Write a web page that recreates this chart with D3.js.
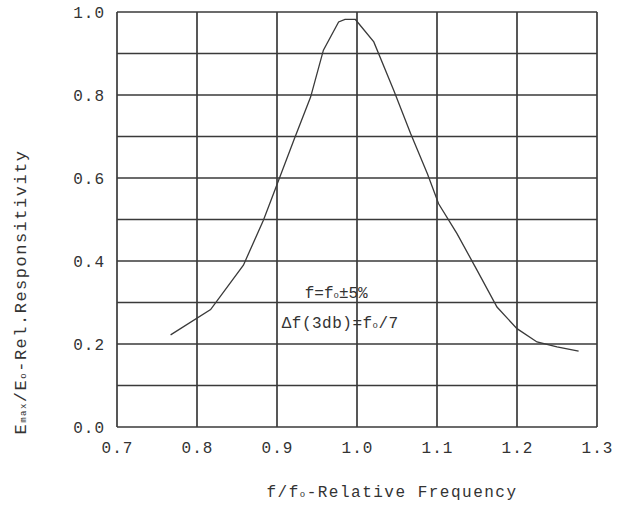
<!DOCTYPE html>
<html>
<head>
<meta charset="utf-8">
<script src="https://cdn.jsdelivr.net/npm/d3@7"></script>
<style>
  body { margin: 0; background: #fff; }
  text { font-family: "Liberation Mono", "DejaVu Sans Mono", monospace; fill: #333; }
</style>
</head>
<body>
<svg id="chart" width="617" height="507"></svg>
<script>
(function() {

  // values
  var freq = [0.767, 0.817, 0.858, 0.883, 0.898, 0.921, 0.942, 0.958, 0.977, 0.985, 0.998,
              1.021, 1.046, 1.067, 1.088, 1.102, 1.125, 1.15, 1.175, 1.2, 1.225, 1.25, 1.277]
  var resp = [0.222, 0.283, 0.39, 0.498, 0.574, 0.691, 0.795, 0.908, 0.976, 0.982, 0.982,
              0.928, 0.811, 0.707, 0.61, 0.538, 0.466, 0.378, 0.289, 0.237, 0.205, 0.193, 0.183]
  var xTicks = [0.7, 0.8, 0.9, 1.0, 1.1, 1.2, 1.3]
  var yTicks = [0, 0.2, 0.4, 0.6, 0.8, 1.0]
  var yGrid = [0, 0.1, 0.2, 0.3, 0.4, 0.5, 0.6, 0.7, 0.8, 0.9, 1.0]

  var margin = {left: 117, top: 12}
  var width = 480, height = 415

  var svg = d3.select("#chart")
    .append("g")
    .attr("transform", "translate(" + margin.left + "," + margin.top + ")")

  const xPositionScale = d3.scaleLinear().domain([0.7, 1.3]).range([0, width])
  const yPositionScale = d3.scaleLinear().domain([0, 1]).range([height, 0])

  // grid
  svg.selectAll(".hgrid")
    .data(yGrid)
    .enter().append("line")
    .attr("x1", 0).attr("x2", width)
    .attr("y1", d => yPositionScale(d)).attr("y2", d => yPositionScale(d))
    .attr("stroke", "#3a3a3a").attr("stroke-width", 1.7)

  svg.selectAll(".vgrid")
    .data(xTicks)
    .enter().append("line")
    .attr("y1", 0).attr("y2", height)
    .attr("x1", d => xPositionScale(d)).attr("x2", d => xPositionScale(d))
    .attr("stroke", "#3a3a3a").attr("stroke-width", 1.7)

  // axes (only for labels)
  var xAxis = d3.axisBottom(xPositionScale).tickValues(xTicks).tickSize(0).tickPadding(15)
    .tickFormat(d => d3.format(".1f")(d))
  svg.append("g").attr("transform", "translate(0," + height + ")").call(xAxis)
    .call(g => g.select(".domain").remove())
    .selectAll("text").attr("font-size", 16).attr("font-family", "Liberation Mono")
    .attr("fill", "#333").attr("letter-spacing", 1)

  var yAxis = d3.axisLeft(yPositionScale).tickValues(yTicks).tickSize(0).tickPadding(12)
    .tickFormat(d => d3.format(".1f")(d))
  svg.append("g").call(yAxis)
    .call(g => g.select(".domain").remove())
    .selectAll("text").attr("font-size", 16).attr("font-family", "Liberation Mono")
    .attr("fill", "#333").attr("letter-spacing", 1)

  // curve
  var line = d3.line()
    .x((d, i) => xPositionScale(freq[i]))
    .y((d, i) => yPositionScale(resp[i]))

  svg.append("path")
    .datum(freq)
    .attr("d", line)
    .attr("fill", "none")
    .attr("stroke", "#3a3a3a")
    .attr("stroke-width", 1.3)

  // annotation
  var note1 = svg.append("text")
    .attr("x", xPositionScale(0.974)).attr("y", yPositionScale(0.31))
    .attr("text-anchor", "middle").attr("font-size", 16)
  note1.append("tspan").text("f=f")
  note1.append("tspan").text("o").attr("font-size", 9)
  note1.append("tspan").text("±5%")

  var note2 = svg.append("text")
    .attr("x", xPositionScale(0.979)).attr("y", yPositionScale(0.238))
    .attr("text-anchor", "middle").attr("font-size", 16).attr("letter-spacing", 0.5)
  note2.append("tspan").text("Δf(3db)=f")
  note2.append("tspan").text("o").attr("font-size", 9)
  note2.append("tspan").text("/7")

  // axis titles
  var xt = d3.select("#chart").append("text")
    .attr("x", 392).attr("y", 497)
    .attr("text-anchor", "middle").attr("font-size", 16).attr("letter-spacing", 1.5)
  xt.append("tspan").text("f/f")
  xt.append("tspan").text("o").attr("font-size", 9)
  xt.append("tspan").text("-Relative Frequency")

  var yt = d3.select("#chart").append("text")
    .attr("transform", "translate(26,292) rotate(-90)")
    .attr("text-anchor", "middle").attr("font-size", 17).attr("letter-spacing", 1.5)
  yt.append("tspan").text("E")
  yt.append("tspan").text("max").attr("font-size", 9)
  yt.append("tspan").text("/E")
  yt.append("tspan").text("o").attr("font-size", 9)
  yt.append("tspan").text("-Rel.Responsitivity")

})()
</script>
</body>
</html>
